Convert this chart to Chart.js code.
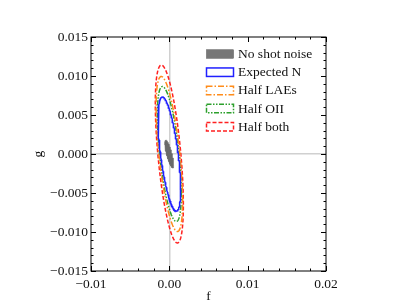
<!DOCTYPE html>
<html><head><meta charset="utf-8">
<script src="https://cdn.jsdelivr.net/npm/chart.js@4/dist/chart.umd.min.js"></script>
<style>html,body{margin:0;padding:0;background:#fff;}#wrap{width:407px;height:305px;}</style>
</head><body><div id="wrap"><canvas id="c" width="407" height="305"></canvas></div>
<script>
// ---- data (ellipse parameters) ----
const categories = ['No shot noise', 'Expected N', 'Half LAEs', 'Half OII', 'Half both'];
const centerF = [0.00000, 0.00000, 0.00000, 0.00000, 0.00000];
const centerG = [0.00000, 0.00000, 0.00000, 0.00000, 0.00000];
const sigmaF  = [0.00057, 0.00144, 0.00169, 0.00153, 0.00179];
const sigmaG  = [0.00180, 0.00731, 0.00994, 0.00865, 0.01140];
const rhoFG   = [-0.78, -0.62, -0.61, -0.58, -0.57];
const xTicks = [-0.01, 0.00, 0.01, 0.02];
const yTicks = [-0.015, -0.010, -0.005, 0.000, 0.005, 0.010, 0.015];
const xMinorStep = 0.002, yMinorStep = 0.001;

// ---- styles ----
const colors = ['#6a6a6a', '#2020ff', '#ff8c1a', '#2ca02c', '#ff2020'];
const dashes = [[], [], [6, 2, 1.5, 2], [5, 1.5, 1.5, 1.5, 1.5, 1.5], [4, 2]];
const FONT = {family: "'Liberation Serif', 'DejaVu Serif', serif", size: 13.5};
const TXT = '#111';

function ellipsePoints(i) {
  const pts = [];
  const n = 180, s = Math.sqrt(1 - rhoFG[i] * rhoFG[i]);
  for (let k = 0; k <= n; k++) {
    const t = 2 * Math.PI * k / n;
    pts.push({x: centerF[i] + sigmaF[i] * Math.cos(t),
              y: centerG[i] + sigmaG[i] * (rhoFG[i] * Math.cos(t) + s * Math.sin(t))});
  }
  return pts;
}

const datasets = categories.map((lab, i) => ({
  label: lab,
  data: ellipsePoints(i),
  showLine: true,
  pointRadius: 0,
  borderColor: colors[i],
  borderWidth: i === 0 ? 0.5 : 1.5,
  borderDash: dashes[i],
  backgroundColor: colors[i],
  fill: i === 0 ? 'shape' : false,
  tension: 0
}));

function fmt(v, d) {
  if (Math.abs(v) < 1e-12) v = 0;
  return (v < 0 ? '\u2212' : '') + Math.abs(v).toFixed(d);
}
const gridCol = c => (c.tick && Math.abs(c.tick.value) < 1e-12) ? '#d0d0d0' : 'rgba(0,0,0,0)';

const framePlugin = {
  id: 'frame',
  afterDraw(chart) {
    const {ctx, chartArea: a, scales: {x, y}} = chart;
    ctx.save();
    ctx.strokeStyle = '#000';
    ctx.lineWidth = 1;
    ctx.strokeRect(a.left, a.top, a.right - a.left, a.bottom - a.top);
    const tick = (px, horiz, len) => {
      ctx.beginPath();
      if (horiz) { // x ticks
        ctx.moveTo(px, a.bottom); ctx.lineTo(px, a.bottom - len);
        ctx.moveTo(px, a.top); ctx.lineTo(px, a.top + len);
      } else {
        ctx.moveTo(a.left, px); ctx.lineTo(a.left + len, px);
        ctx.moveTo(a.right, px); ctx.lineTo(a.right - len, px);
      }
      ctx.stroke();
    };
    for (let v = x.min; v <= x.max + 1e-9; v += xMinorStep) tick(Math.round(x.getPixelForValue(v)) + 0.5, true, 2.5);
    for (let v = y.min; v <= y.max + 1e-9; v += yMinorStep) tick(Math.round(y.getPixelForValue(v)) + 0.5, false, 2.5);
    xTicks.forEach(v => tick(Math.round(x.getPixelForValue(v)) + 0.5, true, 5));
    yTicks.forEach(v => tick(Math.round(y.getPixelForValue(v)) + 0.5, false, 5));
    ctx.restore();
  }
};

const legendPlugin = {
  id: 'innerLegend',
  afterDraw(chart) {
    const {ctx, chartArea: a} = chart;
    ctx.save();
    const x0 = a.right - 119.5, y0 = a.top + 17, dy = 18.2, w = 27, h = 8.5;
    categories.forEach((lab, i) => {
      const cy = y0 + i * dy;
      ctx.setLineDash(dashes[i]);
      if (i === 0) {
        ctx.fillStyle = '#777';
        ctx.fillRect(x0, cy - h / 2, w, h);
        ctx.strokeStyle = '#555';
        ctx.lineWidth = 0.5;
        ctx.strokeRect(x0, cy - h / 2, w, h);
      } else {
        ctx.strokeStyle = colors[i];
        ctx.lineWidth = 1.5;
        ctx.strokeRect(x0, cy - h / 2, w, h);
      }
      ctx.setLineDash([]);
      ctx.fillStyle = TXT;
      ctx.font = FONT.size + 'px ' + FONT.family;
      ctx.textBaseline = 'middle';
      ctx.textAlign = 'left';
      ctx.fillText(lab, x0 + w + 4.5, cy + 0.5);
    });
    ctx.restore();
  }
};

new Chart(document.getElementById('c'), {
  type: 'scatter',
  data: {datasets},
  options: {
    responsive: false, animation: false, devicePixelRatio: 1,
    layout: {padding: {left: 0, right: 81, top: 37, bottom: 0}},
    plugins: {legend: {display: false}, tooltip: {enabled: false}},
    scales: {
      x: {
        type: 'linear', min: -0.01, max: 0.02,
        afterBuildTicks: s => { s.ticks = xTicks.map(v => ({value: v})); },
        afterFit: s => { s.height = 34; },
        grid: {drawTicks: false, color: gridCol, lineWidth: 1.5},
        border: {display: false},
        ticks: {padding: 5, font: FONT, color: TXT, maxRotation: 0, autoSkip: false, callback: v => fmt(v, 2)},
        title: {display: true, text: 'f', font: FONT, color: TXT, padding: 0}
      },
      y: {
        type: 'linear', min: -0.015, max: 0.015,
        afterBuildTicks: s => { s.ticks = yTicks.map(v => ({value: v})); },
        afterFit: s => { s.width = 91; },
        grid: {drawTicks: false, color: gridCol, lineWidth: 1.5},
        border: {display: false},
        ticks: {padding: 3, font: FONT, color: TXT, autoSkip: false, callback: v => fmt(v, 3)},
        title: {display: true, text: 'g', font: FONT, color: TXT, padding: {top: 30, bottom: 0}}
      }
    }
  },
  plugins: [framePlugin, legendPlugin]
});
</script></body></html>
